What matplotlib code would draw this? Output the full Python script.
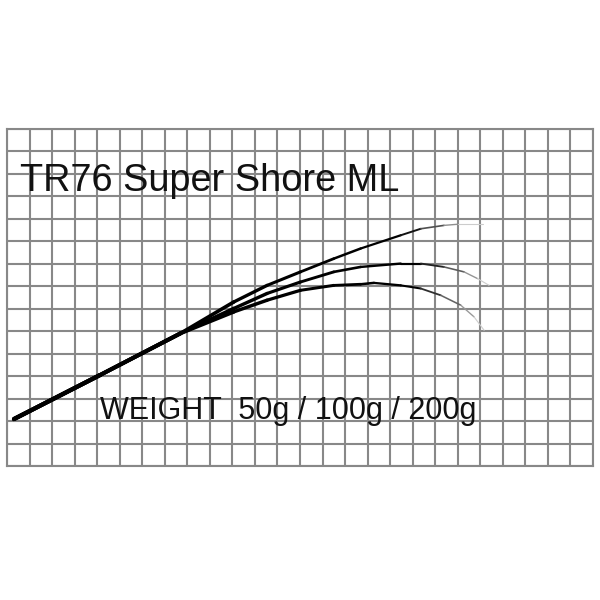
import numpy as np
import matplotlib
matplotlib.use("Agg")
import matplotlib.pyplot as plt
from matplotlib.collections import LineCollection

# grid size in cells
n_cols = 26
n_rows = 15

# rod bend curves (grid units)
butt_x = [0.31, 4.13, 7.69]
butt_y = [2.09, 4.05, 5.90]

w50_x = [10.06, 11.54, 13.02, 14.50, 15.69, 17.47, 18.36, 19.39, 19.99, 21.10]
w50_y = [7.30, 8.04, 8.64, 9.23, 9.68, 10.27, 10.56, 10.71, 10.76, 10.76]

w100_x = [10.06, 11.54, 13.02, 14.50, 15.69, 17.47, 18.36, 19.39, 20.28, 20.88, 21.39]
w100_y = [7.01, 7.68, 8.19, 8.64, 8.86, 9.01, 9.01, 8.86, 8.64, 8.34, 8.04]

w200_x = [10.06, 11.54, 13.02, 14.50, 15.69, 16.28, 17.47, 18.36, 19.24, 20.13, 20.72, 21.17]
w200_y = [6.86, 7.38, 7.82, 8.04, 8.09, 8.15, 8.04, 7.90, 7.60, 7.16, 6.64, 6.04]

title = "TR76 Super Shore ML"
weight_label = "WEIGHT  50g / 100g / 200g"

plt.rcParams['font.family'] = ['Liberation Sans', 'DejaVu Sans']

fig = plt.figure(figsize=(6, 6), dpi=100)
ax = fig.add_axes([7 / 600, 134 / 600, 586 / 600, 337 / 600])
ax.set_xlim(0, n_cols)
ax.set_ylim(0, n_rows)

grid_color = '#888888'
ax.set_xticks(np.arange(n_cols + 1))
ax.set_yticks(np.arange(n_rows + 1))
ax.tick_params(length=0, labelbottom=False, labelleft=False)
ax.grid(True, color=grid_color, linewidth=1.5)
for s in ax.spines.values():
    s.set_color(grid_color)
    s.set_linewidth(1.5)
ax.set_axisbelow(True)

for cx, cy in [(w50_x, w50_y), (w100_x, w100_y), (w200_x, w200_y)]:
    x = np.array(butt_x + cx)
    y = np.array(butt_y + cy)
    pts = np.column_stack([x, y])
    segs = np.stack([pts[:-1], pts[1:]], axis=1)
    n = len(segs)
    frac = np.linspace(0, 1, n)
    widths = 3.0 - 2.2 * frac
    grey = np.clip((frac - 0.7) / 0.3, 0, 1) * 0.8
    colors = [(g, g, g) for g in grey]
    ax.add_collection(LineCollection(segs, colors=colors, linewidths=widths,
                                     capstyle='round', joinstyle='round'))

ax.text(0.58, 12.22, title, fontsize=27.3, color='#111111', va='baseline', ha='left')
ax.text(4.13, 2.09, weight_label, fontsize=22, color='#111111', va='baseline', ha='left')

fig.savefig("out.png", dpi=100)
